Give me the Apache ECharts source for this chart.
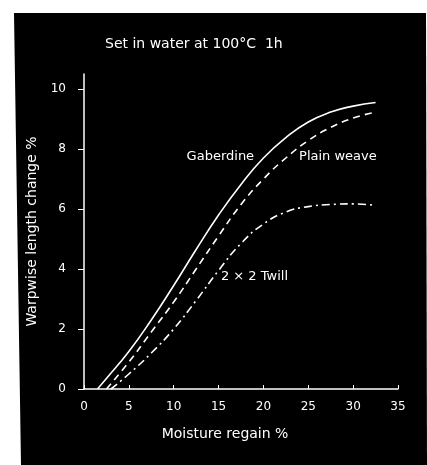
<!DOCTYPE html>
<html>
<head>
<meta charset="utf-8">
<script src="https://cdn.jsdelivr.net/npm/echarts@6/dist/echarts.min.js"></script>
<style>
html,body{margin:0;padding:0;background:#fff;}
#c{width:427px;height:465px;}
</style>
</head>
<body>
<div id="c"></div>
<script>
// Moisture regain (%) and warpwise length change (%)
var gaberdineX = [1.5, 2.5, 5, 7.5, 10, 12.5, 15, 17.5, 20, 22.5, 25, 27.5, 30, 32.5];
var gaberdineY = [0, 0.35, 1.25, 2.3, 3.45, 4.65, 5.8, 6.82, 7.7, 8.38, 8.9, 9.23, 9.43, 9.55];

var plainX = [2.5, 5, 7.5, 10, 12.5, 15, 17.5, 20, 22.5, 25, 27.5, 30, 32.5];
var plainY = [0, 0.9, 1.9, 2.9, 4.0, 5.1, 6.15, 7.0, 7.7, 8.28, 8.72, 9.03, 9.23];

var twillX = [3, 5, 7.5, 10, 12.5, 15, 17.5, 20, 22.5, 25, 27.5, 30, 32.5];
var twillY = [0, 0.5, 1.2, 2.0, 2.95, 3.95, 4.85, 5.5, 5.9, 6.08, 6.15, 6.17, 6.12];

var seriesNames = ['Gaberdine', 'Plain weave', '2 × 2 Twill'];
var yTicks = [0, 2, 4, 6, 8, 10];
var titleText = 'Set in water at 100°C  1h';
var xName = 'Moisture regain %';
var yName = 'Warpwise length change %';

// annotation anchor points (data coordinates)
var labelAt = [[15.2, 7.76], [28.3, 7.76], [19.0, 3.75]];

function pairs(xs, ys) { return xs.map(function (x, i) { return [x, ys[i]]; }); }

var font = '"DejaVu Sans", Verdana, sans-serif';
var chart = echarts.init(document.getElementById('c'), null, {renderer: 'canvas'});
var lineBase = {type: 'line', showSymbol: false, symbol: 'none', smooth: 0.5, silent: true};
var bg = {
  type: 'polygon', z: -10, silent: true,
  shape: {points: [[14, 13], [426, 13], [427, 465], [21, 465]]},
  style: {fill: '#000'}
};

chart.setOption({
  animation: false,
  backgroundColor: '#fff',
  title: {
    text: titleText, left: 100, top: 32,
    textStyle: {color: '#fff', fontSize: 14, fontWeight: 'normal', fontFamily: font}
  },
  grid: {left: 84, right: 29, top: 74, bottom: 76},
  xAxis: {
    type: 'value', min: 0, max: 35, interval: 5,
    name: xName, nameLocation: 'middle', nameGap: 38,
    nameTextStyle: {color: '#fff', fontSize: 14, fontFamily: font, padding: [0, 32, 0, 0]},
    axisLine: {show: true, lineStyle: {color: '#fff', width: 1.5}},
    axisTick: {show: true, inside: true, length: 4, lineStyle: {color: '#fff'}},
    axisLabel: {color: '#fff', fontSize: 12, fontFamily: font, margin: 12},
    splitLine: {show: false}
  },
  yAxis: {
    type: 'value', min: 0, max: 10.5,
    name: yName, nameLocation: 'middle', nameGap: 42, nameRotate: 90,
    nameTextStyle: {color: '#fff', fontSize: 14, fontFamily: font},
    axisLine: {show: true, lineStyle: {color: '#fff', width: 1.5}},
    axisTick: {show: true, inside: false, length: 6, customValues: yTicks, lineStyle: {color: '#fff'}},
    axisLabel: {color: '#fff', fontSize: 12, fontFamily: font, margin: 18, customValues: yTicks},
    splitLine: {show: false}
  },
  graphic: [bg],
  series: [
    Object.assign({}, lineBase, {
      name: seriesNames[0], data: pairs(gaberdineX, gaberdineY),
      lineStyle: {color: '#fff', width: 1.6, type: 'solid'}
    }),
    Object.assign({}, lineBase, {
      name: seriesNames[1], data: pairs(plainX, plainY),
      lineStyle: {color: '#fff', width: 1.6, type: [7, 5]}
    }),
    Object.assign({}, lineBase, {
      name: seriesNames[2], data: pairs(twillX, twillY),
      lineStyle: {color: '#fff', width: 1.6, type: [8, 4, 2, 4]}
    })
  ]
});

var labels = seriesNames.map(function (n, i) {
  var p = chart.convertToPixel({gridIndex: 0}, labelAt[i]);
  return {
    type: 'text', x: p[0], y: p[1], silent: true,
    style: {text: n, fill: '#fff', font: '13px ' + font, textAlign: 'center', textVerticalAlign: 'middle'}
  };
});
chart.setOption({graphic: [bg].concat(labels)});
</script>
</body>
</html>
